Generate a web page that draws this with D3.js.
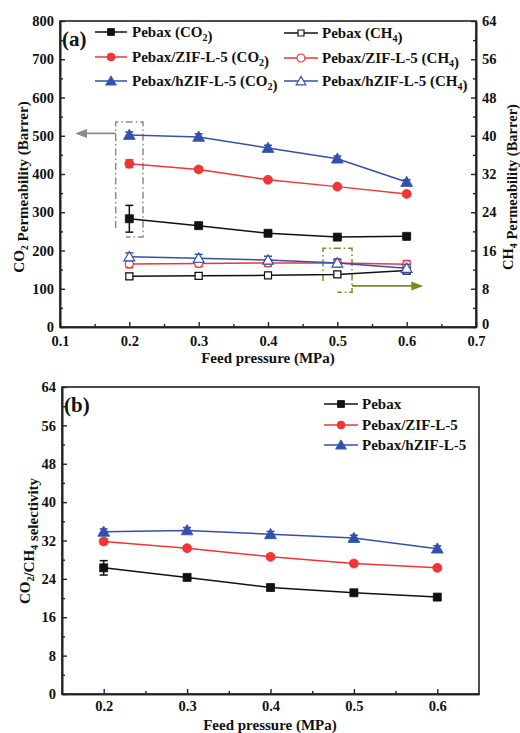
<!DOCTYPE html>
<html><head><meta charset="utf-8">
<script src="https://cdn.jsdelivr.net/npm/d3@7"></script>
<style>
body{margin:0;background:#fff;}
svg text{font-family:"Liberation Serif","Times New Roman",serif;font-weight:bold;fill:#111;}
</style></head>
<body><svg id="c" width="520" height="733"></svg>
<script>
// ---------- data ----------
const pressures = [0.2, 0.3, 0.4, 0.5, 0.6];
const pebaxCO2 = [283, 265, 245, 235, 237];
const pebaxCO2Err = [35, 5, 4, 4, 4];
const zifCO2 = [427, 412, 385, 367, 348];
const zifCO2Err = [10, 6, 5, 5, 5];
const hzifCO2 = [502, 497, 468, 440, 379];
const hzifCO2Err = [8, 8, 7, 7, 6];
const pebaxCH4 = [10.6, 10.7, 10.8, 11.0, 11.8];
const pebaxCH4Err = [0.6, 0.6, 0.5, 0.5, 0.6];
const zifCH4 = [13.2, 13.3, 13.4, 13.4, 13.1];
const zifCH4Err = [0.8, 0.7, 0.7, 0.7, 0.8];
const hzifCH4 = [14.7, 14.4, 14.0, 13.4, 12.3];
const hzifCH4Err = [0.8, 0.8, 0.8, 0.8, 0.8];
const pebaxSel = [26.3, 24.3, 22.2, 21.1, 20.2];
const pebaxSelErr = [1.5, 0.5, 0.5, 0.5, 0.5];
const zifSel = [31.8, 30.4, 28.6, 27.2, 26.3];
const zifSelErr = [0.5, 0.5, 0.4, 0.4, 0.4];
const hzifSel = [33.8, 34.1, 33.3, 32.5, 30.3];
const hzifSelErr = [0.6, 0.6, 0.6, 0.6, 0.6];
const xTicksA = [0.1, 0.2, 0.3, 0.4, 0.5, 0.6, 0.7];
const yTicksLeftA = [0, 100, 200, 300, 400, 500, 600, 700, 800];
const yTicksRightA = [0, 8, 16, 24, 32, 40, 48, 56, 64];
const xTicksB = [0.2, 0.3, 0.4, 0.5, 0.6];
const yTicksB = [0, 8, 16, 24, 32, 40, 48, 56, 64];

const BLACK = "#111", RED = "#f03535", BLUE = "#3350ae", GRAY = "#8a8a8a", OLIVE = "#7d8a22";

const svg = d3.select("#c");

// ---------- helpers ----------
function marker(g, shape, x, y, color, filled, size) {
  const sym = {square: d3.symbolSquare, circle: d3.symbolCircle, triangle: d3.symbolTriangle}[shape];
  const area = {square: size*size, circle: Math.PI*(size/2)*(size/2), triangle: size*size*0.5}[shape];
  g.append("path").attr("d", d3.symbol().type(sym).size(area)())
    .attr("transform", `translate(${x},${y + (shape==="triangle" ? 1 : 0)})`)
    .attr("fill", filled ? color : "#fff").attr("stroke", color).attr("stroke-width", filled ? 0.8 : 1.2);
}
function series(g, xs, ys, vals, errs, color, shape, filled, size) {
  const pts = vals.map((v,i)=>[xs(pressures[i]), ys(v)]);
  g.append("path").attr("d", d3.line()(pts)).attr("fill","none").attr("stroke", color).attr("stroke-width", 1.5);
  vals.forEach((v,i)=>{
    const x = xs(pressures[i]), y1 = ys(v-errs[i]), y2 = ys(v+errs[i]);
    g.append("line").attr("x1",x).attr("x2",x).attr("y1",y1).attr("y2",y2).attr("stroke",color).attr("stroke-width",1.5);
    [y1,y2].forEach(yy=>g.append("line").attr("x1",x-4).attr("x2",x+4).attr("y1",yy).attr("y2",yy).attr("stroke",color).attr("stroke-width",1.5));
  });
  vals.forEach((v,i)=>marker(g, shape, xs(pressures[i]), ys(v), color, filled, size));
}
function styleAxis(a){
  a.selectAll(".domain").attr("stroke","#222").attr("stroke-width",1.6);
  a.selectAll(".tick line").attr("stroke","#222").attr("stroke-width",1.4);
  a.selectAll("text").style("font-size","14.5px").attr("fill","#111");
}
function legendText(t, parts){
  parts.forEach(p=>{
    if (typeof p === "string") t.append("tspan").text(p);
    else { t.append("tspan").attr("dy", 4).style("font-size","10px").text(p.sub);
           t.append("tspan").attr("dy", -4).text(""); }
  });
}

// ---------- panel (a) ----------
const xa = d3.scaleLinear().domain([0.1, 0.7]).range([60, 476]);
const yaL = d3.scaleLinear().domain([0, 800]).range([327, 21]);
const yaR = d3.scaleLinear().domain([0, 64]).range([327, 21]);
const ga = svg.append("g");

ga.append("rect").attr("x",60).attr("y",21).attr("width",416).attr("height",306).attr("fill","none").attr("stroke","#222").attr("stroke-width",1.6);

let ax;
ax = ga.append("g").attr("transform","translate(0,327)").call(d3.axisBottom(xa).tickValues(xTicksA).tickFormat(d3.format(".1f")).tickSizeInner(-5).tickSizeOuter(0).tickPadding(9));
styleAxis(ax);
ax = ga.append("g").attr("transform","translate(0,327)").call(d3.axisBottom(xa).tickValues(d3.range(0.15,0.7,0.1)).tickFormat("").tickSizeInner(-3).tickSizeOuter(0));
styleAxis(ax);
ax = ga.append("g").attr("transform","translate(60,0)").call(d3.axisLeft(yaL).tickValues(yTicksLeftA).tickSizeInner(-5).tickSizeOuter(0).tickPadding(6));
styleAxis(ax);
ax = ga.append("g").attr("transform","translate(60,0)").call(d3.axisLeft(yaL).tickValues(d3.range(50,800,100)).tickFormat("").tickSizeInner(-3).tickSizeOuter(0));
styleAxis(ax);
ax = ga.append("g").attr("transform","translate(476,0)").call(d3.axisRight(yaR).tickValues(yTicksRightA).tickSizeInner(-5).tickSizeOuter(0).tickPadding(6));
styleAxis(ax);
ax.selectAll(".tick text").filter(d=>d===0).attr("dy","0.1em");
ax = ga.append("g").attr("transform","translate(476,0)").call(d3.axisRight(yaR).tickValues(d3.range(4,64,8)).tickFormat("").tickSizeInner(-3).tickSizeOuter(0));
styleAxis(ax);

// annotation boxes & arrows (data coordinates)
const dashDot = "7,3,1.5,3";
const grayPath = d3.path();
grayPath.moveTo(xa(0.1803), yaL(259)); grayPath.lineTo(xa(0.1803), yaL(536)); grayPath.lineTo(xa(0.2197), yaL(536));
grayPath.lineTo(xa(0.2197), yaL(235)); grayPath.lineTo(xa(0.195), yaL(235));
ga.append("path").attr("d", grayPath.toString()).attr("fill","none").attr("stroke",GRAY).attr("stroke-width",1.5).attr("stroke-dasharray",dashDot);
function arrow(x1,x2,y,color){
  ga.append("line").attr("x1",x1).attr("x2",x2 + (x2<x1?9:-9)).attr("y1",y).attr("y2",y).attr("stroke",color).attr("stroke-width",1.8);
  const d = x2<x1 ? 1 : -1;
  ga.append("path").attr("d",`M${x2},${y}L${x2+d*12},${y-4.5}L${x2+d*12},${y+4.5}Z`).attr("fill",color);
}
arrow(xa(0.1803), xa(0.1216), yaL(506), GRAY);
const greenPath = d3.path();
greenPath.moveTo(xa(0.4794), yaR(9.6)); greenPath.lineTo(xa(0.4794), yaR(16.46)); greenPath.lineTo(xa(0.5212), yaR(16.46));
greenPath.lineTo(xa(0.5212), yaR(7.26)); greenPath.lineTo(xa(0.5), yaR(7.26));
ga.append("path").attr("d", greenPath.toString()).attr("fill","none").attr("stroke",OLIVE).attr("stroke-width",1.5).attr("stroke-dasharray",dashDot);
arrow(xa(0.5212), xa(0.624), yaR(8.6), OLIVE);

// series
series(ga, xa, yaR, pebaxCH4, pebaxCH4Err, BLACK, "square", false, 7);
series(ga, xa, yaR, zifCH4, zifCH4Err, RED, "circle", false, 8);
series(ga, xa, yaR, hzifCH4, hzifCH4Err, BLUE, "triangle", false, 10);
series(ga, xa, yaL, pebaxCO2, pebaxCO2Err, BLACK, "square", true, 8);
series(ga, xa, yaL, zifCO2, zifCO2Err, RED, "circle", true, 9);
series(ga, xa, yaL, hzifCO2, hzifCO2Err, BLUE, "triangle", true, 11);

// labels
ga.append("text").attr("x",62).attr("y",46).style("font-size","21px").text("(a)");
let t = ga.append("text").attr("x",268).attr("y",363).attr("text-anchor","middle").style("font-size","15px").text("Feed pressure (MPa)");
t = ga.append("text").attr("transform","translate(24,187) rotate(-90)").attr("text-anchor","middle").style("font-size","15px");
legendText(t, ["CO", {sub:"2"}, " Permeability (Barrer)"]);
t = ga.append("text").attr("transform","translate(513,187) rotate(-90)").attr("text-anchor","middle").style("font-size","14.5px");
legendText(t, ["CH", {sub:"4"}, " Permeability (Barrer)"]);

// legend (a)
const legA = [
  {x1:95, x2:127, tx:132, y:32, color:BLACK, shape:"square", filled:true, size:7, parts:["Pebax (CO",{sub:"2"},")"]},
  {x1:95, x2:127, tx:132, y:57, color:RED, shape:"circle", filled:true, size:8, parts:["Pebax/ZIF-L-5 (CO",{sub:"2"},")"]},
  {x1:95, x2:127, tx:132, y:81, color:BLUE, shape:"triangle", filled:true, size:10, parts:["Pebax/hZIF-L-5 (CO",{sub:"2"},")"]},
  {x1:284, x2:318, tx:322, y:33, color:BLACK, shape:"square", filled:false, size:6, parts:["Pebax (CH",{sub:"4"},")"]},
  {x1:284, x2:318, tx:322, y:58, color:RED, shape:"circle", filled:false, size:8, parts:["Pebax/ZIF-L-5 (CH",{sub:"4"},")"]},
  {x1:284, x2:318, tx:322, y:81, color:BLUE, shape:"triangle", filled:false, size:9, parts:["Pebax/hZIF-L-5 (CH",{sub:"4"},")"]},
];
legA.forEach(l=>{
  ga.append("line").attr("x1",l.x1).attr("x2",l.x2).attr("y1",l.y).attr("y2",l.y).attr("stroke",l.color).attr("stroke-width",1.5);
  marker(ga, l.shape, (l.x1+l.x2)/2, l.y, l.color, l.filled, l.size);
  const tt = ga.append("text").attr("x",l.tx).attr("y",l.y+5).style("font-size","15px");
  legendText(tt, l.parts);
});

// ---------- panel (b) ----------
const xb = d3.scaleLinear().domain([0.15, 0.65]).range([62, 479]);
const yb = d3.scaleLinear().domain([0, 64]).range([694, 387]);
const gb = svg.append("g");
gb.append("rect").attr("x",62).attr("y",387).attr("width",417).attr("height",307).attr("fill","none").attr("stroke","#222").attr("stroke-width",1.6);
ax = gb.append("g").attr("transform","translate(0,694)").call(d3.axisBottom(xb).tickValues(xTicksB).tickFormat(d3.format(".1f")).tickSizeInner(-5).tickSizeOuter(0).tickPadding(7));
styleAxis(ax);
ax = gb.append("g").attr("transform","translate(0,694)").call(d3.axisBottom(xb).tickValues([0.25,0.35,0.45,0.55]).tickFormat("").tickSizeInner(-3).tickSizeOuter(0));
styleAxis(ax);
ax = gb.append("g").attr("transform","translate(62,0)").call(d3.axisLeft(yb).tickValues(yTicksB).tickSizeInner(-5).tickSizeOuter(0).tickPadding(6));
styleAxis(ax);
ax = gb.append("g").attr("transform","translate(62,0)").call(d3.axisLeft(yb).tickValues(d3.range(4,64,8)).tickFormat("").tickSizeInner(-3).tickSizeOuter(0));
styleAxis(ax);

series(gb, xb, yb, pebaxSel, pebaxSelErr, BLACK, "square", true, 8);
series(gb, xb, yb, zifSel, zifSelErr, RED, "circle", true, 9);
series(gb, xb, yb, hzifSel, hzifSelErr, BLUE, "triangle", true, 11);

gb.append("text").attr("x",64).attr("y",412).style("font-size","21px").text("(b)");
gb.append("text").attr("x",270).attr("y",730).attr("text-anchor","middle").style("font-size","15px").text("Feed pressure (MPa)");
t = gb.append("text").attr("transform","translate(30,541) rotate(-90)").attr("text-anchor","middle").style("font-size","15px");
legendText(t, ["CO", {sub:"2"}, "/CH", {sub:"4"}, " selectivity"]);

const legB = [
  {y:404, color:BLACK, shape:"square", size:7, label:"Pebax"},
  {y:425, color:RED, shape:"circle", size:8, label:"Pebax/ZIF-L-5"},
  {y:445, color:BLUE, shape:"triangle", size:10, label:"Pebax/hZIF-L-5"},
];
legB.forEach(l=>{
  gb.append("line").attr("x1",324).attr("x2",358).attr("y1",l.y).attr("y2",l.y).attr("stroke",l.color).attr("stroke-width",1.5);
  marker(gb, l.shape, 341, l.y, l.color, true, l.size);
  gb.append("text").attr("x",362).attr("y",l.y+5).style("font-size","15px").text(l.label);
});
</script></body></html>
